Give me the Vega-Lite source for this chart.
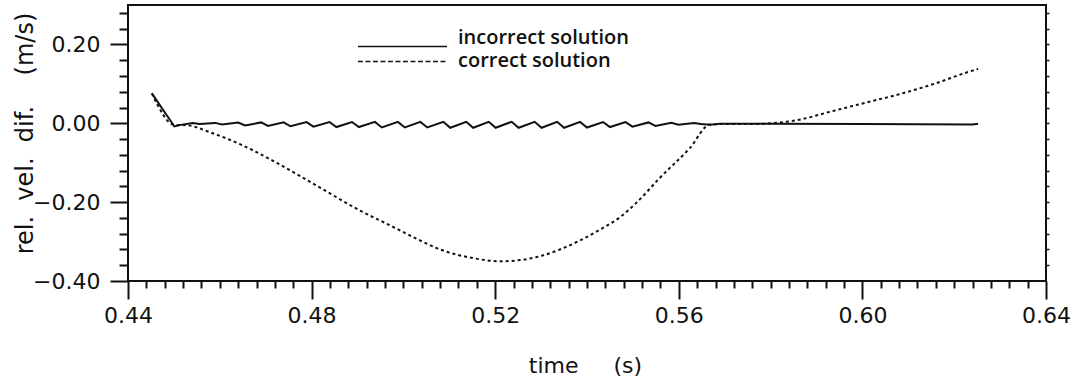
{
  "$schema": "https://vega.github.io/schema/vega-lite/v6.json",
  "width": 918,
  "height": 276,
  "autosize": "none",
  "padding": {"left": 128, "top": 5, "right": 30, "bottom": 102},
  "background": "white",
  "config": {
    "view": {"stroke": "#111", "strokeWidth": 2},
    "axis": {"domain": false, "grid": false, "tickColor": "#111", "tickWidth": 2, "labelColor": "#111", "titleColor": "#111", "labelFont": "DejaVu Sans", "titleFont": "DejaVu Sans", "labelFontSize": 22, "titleFontSize": 22, "titleFontWeight": "normal"}
  },
  "datasets": {
    "incorrect": [
      {"t": 0.4452, "v": 0.076}, {"t": 0.4501, "v": -0.008}, {"t": 0.4515, "v": -0.004},
      {"t": 0.4541, "v": 0.0006}, {"t": 0.4556, "v": -0.0019},
      {"t": 0.4590, "v": 0.0010}, {"t": 0.4605, "v": -0.0029},
      {"t": 0.4640, "v": 0.0019}, {"t": 0.4655, "v": -0.0057},
      {"t": 0.4690, "v": 0.0022}, {"t": 0.4705, "v": -0.0067},
      {"t": 0.4739, "v": 0.0025}, {"t": 0.4754, "v": -0.0076},
      {"t": 0.4789, "v": 0.0029}, {"t": 0.4804, "v": -0.0086},
      {"t": 0.4839, "v": 0.0032}, {"t": 0.4854, "v": -0.0095},
      {"t": 0.4888, "v": 0.0032}, {"t": 0.4903, "v": -0.0095},
      {"t": 0.4938, "v": 0.0035}, {"t": 0.4953, "v": -0.0105},
      {"t": 0.4988, "v": 0.0035}, {"t": 0.5003, "v": -0.0105},
      {"t": 0.5037, "v": 0.0035}, {"t": 0.5052, "v": -0.0105},
      {"t": 0.5087, "v": 0.0038}, {"t": 0.5102, "v": -0.0114},
      {"t": 0.5137, "v": 0.0038}, {"t": 0.5152, "v": -0.0114},
      {"t": 0.5186, "v": 0.0038}, {"t": 0.5201, "v": -0.0114},
      {"t": 0.5236, "v": 0.0038}, {"t": 0.5251, "v": -0.0114},
      {"t": 0.5286, "v": 0.0038}, {"t": 0.5301, "v": -0.0114},
      {"t": 0.5335, "v": 0.0038}, {"t": 0.5350, "v": -0.0114},
      {"t": 0.5385, "v": 0.0036}, {"t": 0.5400, "v": -0.0108},
      {"t": 0.5435, "v": 0.0032}, {"t": 0.5450, "v": -0.0095},
      {"t": 0.5484, "v": 0.0029}, {"t": 0.5499, "v": -0.0086},
      {"t": 0.5534, "v": 0.0022}, {"t": 0.5549, "v": -0.0067},
      {"t": 0.5584, "v": 0.0013}, {"t": 0.5599, "v": -0.0038},
      {"t": 0.5633, "v": 0.0006}, {"t": 0.5648, "v": -0.0019},
      {"t": 0.5668, "v": -0.004}, {"t": 0.5690, "v": -0.001},
      {"t": 0.5800, "v": -0.001}, {"t": 0.6000, "v": -0.002},
      {"t": 0.6240, "v": -0.003}, {"t": 0.6252, "v": -0.001}
    ],
    "correct": [
      {"t": 0.4452, "v": 0.076}, {"t": 0.4501, "v": -0.004}, {"t": 0.4529, "v": -0.005},
      {"t": 0.4579, "v": -0.023}, {"t": 0.4644, "v": -0.053}, {"t": 0.4714, "v": -0.094},
      {"t": 0.4775, "v": -0.134}, {"t": 0.4840, "v": -0.178}, {"t": 0.4905, "v": -0.221},
      {"t": 0.4971, "v": -0.259}, {"t": 0.5036, "v": -0.297}, {"t": 0.5080, "v": -0.320},
      {"t": 0.5152, "v": -0.342}, {"t": 0.5210, "v": -0.350}, {"t": 0.5254, "v": -0.347},
      {"t": 0.5298, "v": -0.337}, {"t": 0.5341, "v": -0.320}, {"t": 0.5385, "v": -0.297},
      {"t": 0.5428, "v": -0.270}, {"t": 0.5472, "v": -0.238}, {"t": 0.5509, "v": -0.200},
      {"t": 0.5559, "v": -0.138}, {"t": 0.5624, "v": -0.063}, {"t": 0.5668, "v": -0.003},
      {"t": 0.5700, "v": -0.002}, {"t": 0.5760, "v": -0.002}, {"t": 0.5800, "v": 0.000},
      {"t": 0.5858, "v": 0.008}, {"t": 0.5932, "v": 0.030}, {"t": 0.6006, "v": 0.052},
      {"t": 0.6081, "v": 0.074}, {"t": 0.6156, "v": 0.100}, {"t": 0.6230, "v": 0.130},
      {"t": 0.6252, "v": 0.138}
    ],
    "legendLines": [
      {"series": "incorrect solution", "t": 0.4901, "v": 0.195},
      {"series": "incorrect solution", "t": 0.5095, "v": 0.195},
      {"series": "correct solution", "t": 0.4901, "v": 0.157},
      {"series": "correct solution", "t": 0.5095, "v": 0.157}
    ],
    "legendText": [
      {"label": "incorrect solution", "t": 0.5119, "v": 0.2003},
      {"label": "correct solution", "t": 0.5119, "v": 0.142}
    ]
  },
  "resolve": {"axis": {"x": "independent", "y": "independent"}},
  "layer": [
    {
      "data": {"name": "incorrect"},
      "mark": {"type": "line", "color": "#111", "strokeWidth": 2},
      "encoding": {
        "x": {"field": "t", "type": "quantitative", "scale": {"domain": [0.44, 0.64], "nice": false, "zero": false},
          "axis": {"orient": "bottom", "values": [0.44, 0.48, 0.52, 0.56, 0.60, 0.64], "format": ".2f", "tickSize": 18, "labelPadding": 6, "title": "time\u00a0\u00a0\u00a0\u00a0\u00a0(s)", "titleX": 457, "titleY": 91, "titleBaseline": "alphabetic", "titleAlign": "center", "labelFlush": false}},
        "y": {"field": "v", "type": "quantitative", "scale": {"domain": [-0.4, 0.3], "nice": false, "zero": false},
          "axis": {"orient": "left", "values": [-0.4, -0.2, 0, 0.2], "format": ".2f", "tickSize": 18, "labelPadding": 10, "title": "rel.\u00a0\u00a0vel.\u00a0\u00a0dif.\u00a0\u00a0\u00a0\u00a0(m/s)", "titleFontSize": 24, "titleX": -103, "titleY": 128, "titleAngle": -90, "titleBaseline": "middle", "titleAlign": "center"}}
      }
    },
    {
      "data": {"name": "correct"},
      "mark": {"type": "line", "color": "#111", "strokeWidth": 2, "strokeDash": [3, 3], "interpolate": "monotone"},
      "encoding": {
        "x": {"field": "t", "type": "quantitative", "scale": {"domain": [0.44, 0.64], "nice": false, "zero": false},
          "axis": {"orient": "bottom", "values": [0.444, 0.448, 0.452, 0.456, 0.46, 0.464, 0.468, 0.472, 0.476, 0.484, 0.488, 0.492, 0.496, 0.5, 0.504, 0.508, 0.512, 0.516, 0.524, 0.528, 0.532, 0.536, 0.54, 0.544, 0.548, 0.552, 0.556, 0.564, 0.568, 0.572, 0.576, 0.58, 0.584, 0.588, 0.592, 0.596, 0.604, 0.608, 0.612, 0.616, 0.62, 0.624, 0.628, 0.632, 0.636], "tickSize": 7, "labels": false, "title": null}},
        "y": {"field": "v", "type": "quantitative", "scale": {"domain": [-0.4, 0.3], "nice": false, "zero": false},
          "axis": {"orient": "left", "values": [-0.36, -0.32, -0.28, -0.24, -0.16, -0.12, -0.08, -0.04, 0.04, 0.08, 0.12, 0.16, 0.24, 0.28], "tickSize": 9, "labels": false, "title": null}}
      }
    },
    {
      "data": {"name": "legendLines"},
      "transform": [{"filter": "datum.series === 'incorrect solution'"}],
      "mark": {"type": "line", "color": "#111", "strokeWidth": 1.5},
      "encoding": {
        "x": {"field": "t", "type": "quantitative", "axis": null},
        "y": {"field": "v", "type": "quantitative",
          "axis": {"orient": "right", "values": [-0.36, -0.32, -0.28, -0.24, -0.2, -0.16, -0.12, -0.08, -0.04, 0, 0.04, 0.08, 0.12, 0.16, 0.2, 0.24, 0.28], "tickSize": 3, "tickWidth": 1.5, "labels": false, "title": null}}
      }
    },
    {
      "data": {"name": "legendLines"},
      "transform": [{"filter": "datum.series === 'correct solution'"}],
      "mark": {"type": "line", "color": "#111", "strokeWidth": 1.5, "strokeDash": [5, 2.5]},
      "encoding": {
        "x": {"field": "t", "type": "quantitative", "axis": null},
        "y": {"field": "v", "type": "quantitative", "axis": null}
      }
    },
    {
      "data": {"name": "legendText"},
      "mark": {"type": "text", "align": "left", "baseline": "alphabetic", "font": "Open Sans", "fontSize": 20, "fontWeight": 600, "color": "#111"},
      "encoding": {
        "x": {"field": "t", "type": "quantitative", "axis": null},
        "y": {"field": "v", "type": "quantitative", "axis": null},
        "text": {"field": "label"}
      }
    }
  ]
}
